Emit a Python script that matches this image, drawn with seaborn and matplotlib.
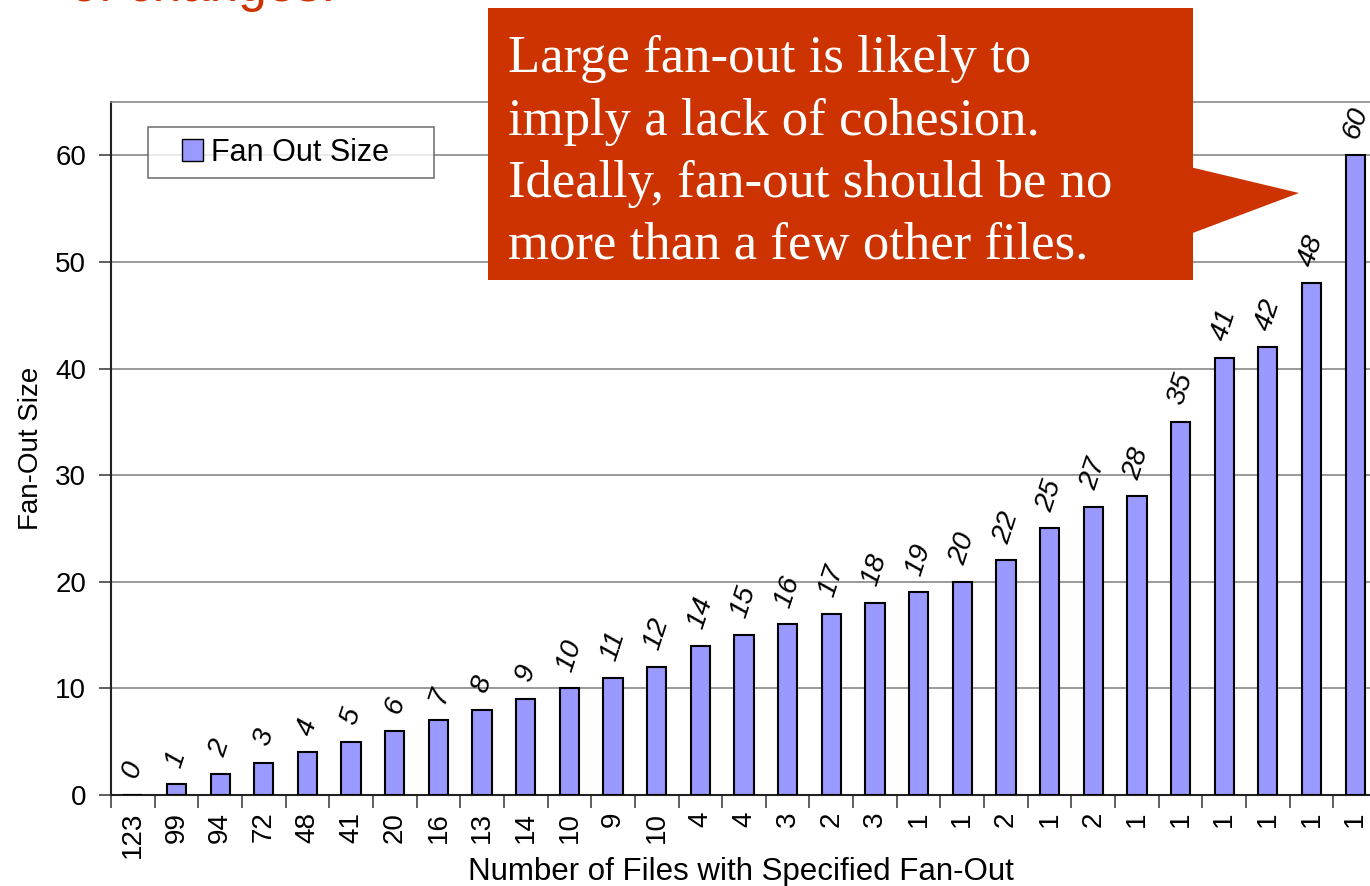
import numpy as np
import pandas as pd
import matplotlib
matplotlib.use("Agg")
import matplotlib.pyplot as plt
from matplotlib.patches import Polygon, Rectangle
from matplotlib.legend_handler import HandlerPatch
import seaborn as sns

# Data
fan_out = [0, 1, 2, 3, 4, 5, 6, 7, 8, 9, 10, 11, 12, 14, 15, 16, 17, 18, 19, 20,
           22, 25, 27, 28, 35, 41, 42, 48, 60]
num_files = ["123", "99", "94", "72", "48", "41", "20", "16", "13", "14", "10", "9",
             "10", "4", "4", "3", "2", "3", "1", "1", "2", "1", "2", "1", "1", "1",
             "1", "1", "1"]
y_ticks = [0, 10, 20, 30, 40, 50, 60]

df = pd.DataFrame({"pos": np.arange(len(fan_out)), "Fan Out Size": fan_out})

sns.set_style("white", rc={"text.color": "black", "xtick.color": "black",
                           "ytick.color": "black", "axes.labelcolor": "black"})
plt.rcParams['font.family'] = ['Liberation Sans', 'DejaVu Sans']

W, H = 1370, 886
fig = plt.figure(figsize=(W / 100, H / 100), dpi=100)
ax = fig.add_axes([111 / W, 1 - 795 / H, (1377 - 111) / W, (795 - 102) / H])

bar_color = "#9999FF"
sns.barplot(data=df, x="pos", y="Fan Out Size", color=bar_color, width=0.44,
            edgecolor="black", linewidth=1.5, saturation=1, ax=ax, zorder=3)

ax.set_xlim(-0.5, len(fan_out) - 0.5)
ax.set_ylim(0, 65)
ax.set_yticks(y_ticks)
ax.yaxis.grid(True, color="#888888", linewidth=1.2, zorder=0)
ax.set_axisbelow(True)

# category labels at centers, tick marks at the boundaries
ax.set_xticks(np.arange(len(fan_out)))
ax.set_xticklabels(num_files, rotation=90, fontsize=20)
ax.set_xticks(np.arange(len(fan_out) + 1) - 0.5, minor=True)
ax.tick_params(axis="x", which="major", length=0, pad=12)
ax.tick_params(axis="x", which="minor", length=9, width=1.2, color="#444444",
               direction="out", bottom=True)
ax.tick_params(axis="y", length=9, width=1.2, color="#444444", direction="out",
               left=True, labelsize=20, pad=9)

for side in ["left", "bottom"]:
    ax.spines[side].set_color("#222222")
    ax.spines[side].set_linewidth(1.5)
ax.spines["top"].set_color("#888888")
ax.spines["top"].set_linewidth(1.2)
ax.spines["right"].set_visible(False)

ax.set_xlabel("Number of Files with Specified Fan-Out", fontsize=22.5)
ax.xaxis.set_label_coords(0.5 - (1377 - 1370) / 2 / (1377 - 111), -0.089)
ax.set_ylabel("Fan-Out Size", fontsize=20, labelpad=8)

# value labels above bars
for i, v in enumerate(fan_out):
    ax.text(i, v + 1.3, str(v), rotation=72, fontsize=20.5, style="italic",
            ha="center", va="bottom", zorder=4)


def square_right(legend, orig_handle, xdescent, ydescent, width, height, fontsize):
    s = 0.7 * fontsize
    return Rectangle((width - s - xdescent, -ydescent + (height - s) / 2), s, s)


leg = ax.legend(handles=[Rectangle((0, 0), 1, 1, facecolor=bar_color, edgecolor="black")],
                labels=["Fan Out Size    "], loc="upper left",
                bbox_to_anchor=((148 - 111) / (1377 - 111), (795 - 127) / (795 - 102)),
                fontsize=22, frameon=True, fancybox=False, borderpad=0.35,
                handlelength=1.45, handleheight=0.7, handletextpad=0.26,
                borderaxespad=0,
                handler_map={Rectangle: HandlerPatch(patch_func=square_right)})
leg.get_frame().set_edgecolor("#555555")
leg.get_frame().set_linewidth(1.2)
leg.set_zorder(5)

# callout box
red = "#CC3300"
fig.patches.append(Rectangle((488 / W, 1 - 280 / H), (1193 - 488) / W, (280 - 8) / H,
                             transform=fig.transFigure, facecolor=red, edgecolor="none",
                             zorder=10))
fig.patches.append(Polygon([[1190 / W, 1 - 167 / H], [1299 / W, 1 - 193 / H],
                            [1190 / W, 1 - 234 / H]], closed=True,
                           transform=fig.transFigure, facecolor=red, edgecolor="none",
                           zorder=10))
lines = ["Large fan-out is likely to", "imply a lack of cohesion.",
         "Ideally, fan-out should be no", "more than a few other files."]
for k, line in enumerate(lines):
    fig.text(508 / W, 1 - (72 + 62.5 * k) / H, line, color="white", fontsize=38,
             family="Liberation Serif", va="baseline", ha="left", zorder=11)

# clipped title line at the top of the slide
fig.text(70 / W, 1 - 1 / H, "of changes.", color=red, fontsize=37,
         va="baseline", ha="left")

fig.savefig("out.png", dpi=100)
